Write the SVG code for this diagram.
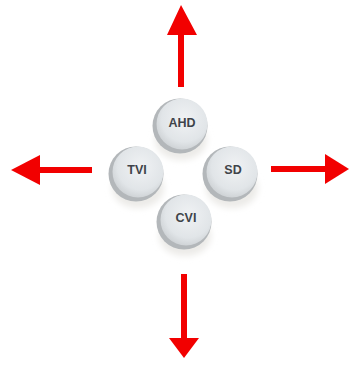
<svg xmlns="http://www.w3.org/2000/svg" width="350" height="365" viewBox="0 0 350 365">
<defs>
<radialGradient id="btn" cx="0.55" cy="0.4" r="0.6">
<stop offset="0" stop-color="#f0f2f4"/>
<stop offset="0.75" stop-color="#e1e5e8"/>
<stop offset="1" stop-color="#d0d4d7"/>
</radialGradient>
<filter id="blur" x="-50%" y="-50%" width="200%" height="200%"><feGaussianBlur stdDeviation="3"/></filter>
</defs>
<style>
.shaft{stroke:#f20000;stroke-width:6;fill:none}
.head{fill:#f20000}
.shadow{fill:#ecebe8;filter:url(#blur)}
.rim{fill:#b3b7ba}
.face{fill:url(#btn)}
.lbl{font-family:"Liberation Sans",Arial,sans-serif;font-weight:bold;font-size:12.5px;fill:#3f444a;text-anchor:middle;dominant-baseline:central}
</style>
<rect width="350" height="365" fill="#ffffff"/>
<g id="connectors">
<line class="shaft" x1="181" y1="87" x2="181" y2="33"/>
<polygon class="head" points="181,5 167,35 197,35"/>
<line class="shaft" x1="92" y1="170" x2="38" y2="170"/>
<polygon class="head" points="11,170 40,155 40,185"/>
<line class="shaft" x1="271" y1="169" x2="327" y2="169"/>
<polygon class="head" points="349,169 325,154 325,184"/>
<line class="shaft" x1="184" y1="274" x2="184" y2="340"/>
<polygon class="head" points="184,358 169,338 199,338"/>
</g>
<g id="node-ahd">
<ellipse class="shadow" cx="181" cy="140" rx="26" ry="20"/>
<circle class="rim" cx="180" cy="126" r="27.5"/>
<circle class="face" cx="182" cy="124" r="25.5"/>
<text class="lbl" x="182" y="123">AHD</text>
</g>
<g id="node-tvi">
<ellipse class="shadow" cx="138" cy="188" rx="26" ry="20"/>
<circle class="rim" cx="136" cy="174" r="27.5"/>
<circle class="face" cx="138" cy="172" r="25.5"/>
<text class="lbl" x="137" y="170">TVI</text>
</g>
<g id="node-sd">
<ellipse class="shadow" cx="232" cy="188" rx="26" ry="20"/>
<circle class="rim" cx="230" cy="174" r="27.5"/>
<circle class="face" cx="232" cy="172" r="25.5"/>
<text class="lbl" x="233" y="170">SD</text>
</g>
<g id="node-cvi">
<ellipse class="shadow" cx="185" cy="236" rx="26" ry="20"/>
<circle class="rim" cx="184" cy="222" r="27.5"/>
<circle class="face" cx="186" cy="220" r="25.5"/>
<text class="lbl" x="186" y="218">CVI</text>
</g>
</svg>
